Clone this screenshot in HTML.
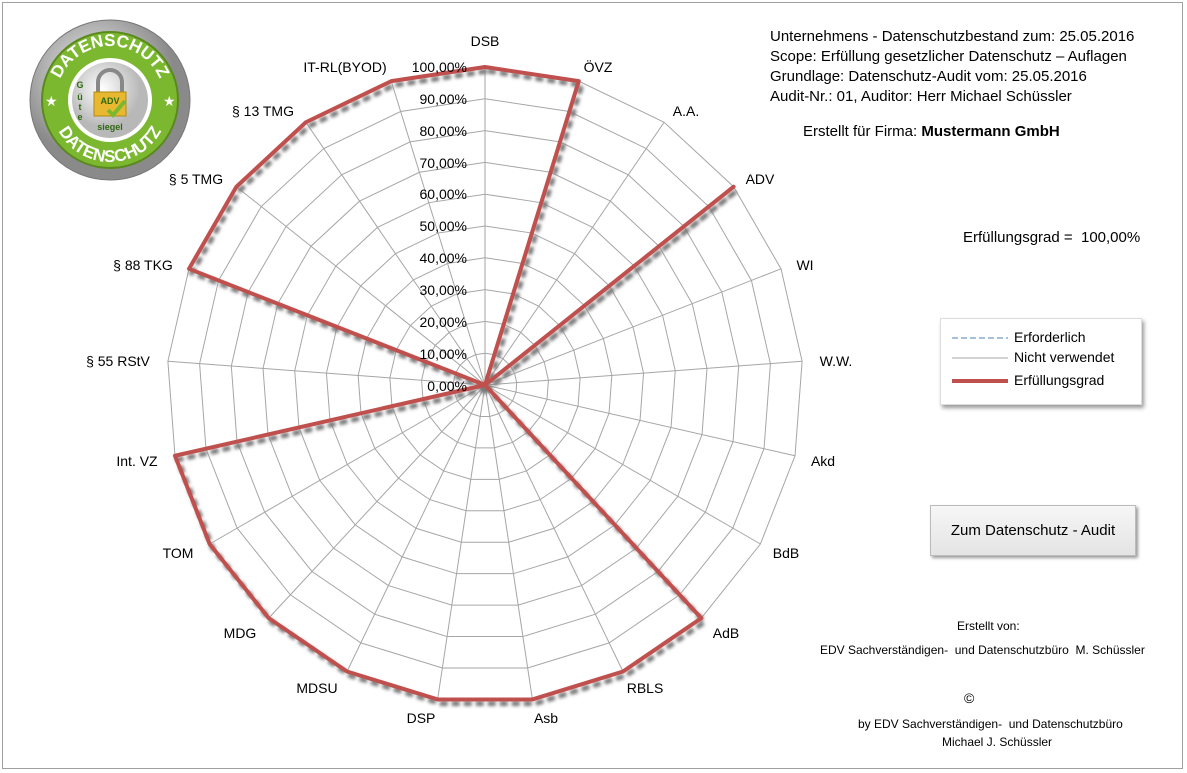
<!DOCTYPE html>
<html><head><meta charset="utf-8"><style>
html,body{margin:0;padding:0;width:1187px;height:773px;overflow:hidden;background:#fff;font-family:"Liberation Sans",sans-serif}
#frame{position:absolute;left:2px;top:2px;width:1181px;height:767px;border:1px solid #a0a0a0;box-sizing:border-box}
svg{position:absolute;left:0;top:0}
.t{font-size:14px;fill:#000}
.r{position:absolute;font-size:15px;color:#000;white-space:nowrap}
</style></head><body>
<div id="frame"></div>
<svg width="1187" height="773" id="s">
<defs>
<filter id="bl" x="-10%" y="-10%" width="120%" height="120%"><feGaussianBlur stdDeviation="1.5"/></filter>
<radialGradient id="gr" cx="40%" cy="35%"><stop offset="0" stop-color="#f4f4f4"/><stop offset="1" stop-color="#8a8a8a"/></radialGradient>
<radialGradient id="gi" cx="40%" cy="35%"><stop offset="0" stop-color="#ffffff"/><stop offset="1" stop-color="#b8b8b8"/></radialGradient>
</defs>
<g id="grid" stroke="#a6a6a6" stroke-width="1" fill="none"></g>
<g id="data"></g>
<!-- logo -->
<circle cx="110" cy="100" r="80" fill="url(#gr)" stroke="#777"/>
<circle cx="110" cy="100" r="68" fill="#7cb82f" stroke="#5a8a1f" stroke-width="2"/>
<circle cx="110" cy="100" r="42" fill="#fff"/>
<circle cx="110" cy="100" r="38" fill="url(#gi)"/>
<path d="M98 92 v-10 a12 12 0 0 1 24 0 v10" fill="none" stroke="#888" stroke-width="4"/>
<rect x="94" y="92" width="32" height="24" fill="#e8b830" stroke="#b08a10"/>
<text x="110" y="104" font-size="9" font-weight="bold" fill="#2d6a10" text-anchor="middle">ADV</text>
<path d="M108 110 l5 5 l12 -14" fill="none" stroke="#7cb82f" stroke-width="4"/>
<text x="110" y="130" font-size="9" font-weight="bold" fill="#2d6a10" text-anchor="middle">siegel</text>
<text x="80" y="88" font-size="9" font-weight="bold" fill="#2d6a10" text-anchor="middle">G</text>
<text x="80" y="100" font-size="9" font-weight="bold" fill="#2d6a10" text-anchor="middle">ü</text>
<text x="80" y="110" font-size="9" font-weight="bold" fill="#2d6a10" text-anchor="middle">t</text>
<text x="80" y="120" font-size="9" font-weight="bold" fill="#2d6a10" text-anchor="middle">e</text>
<path id="arcT" d="M56 100 a54 54 0 0 1 108 0" fill="none"/>
<path id="arcB" d="M52 104 a58 58 0 0 0 116 0" fill="none"/>
<text font-size="17" font-weight="bold" fill="#fff"><textPath href="#arcT" startOffset="50%" text-anchor="middle">DATENSCHUTZ</textPath></text>
<text font-size="17" font-weight="bold" fill="#fff"><textPath href="#arcB" startOffset="50%" text-anchor="middle">DATENSCHUTZ</textPath></text>
<text x="45" y="106" font-size="14" fill="#fff">★</text><text x="163" y="106" font-size="14" fill="#fff">★</text>
<!-- ticks -->
<g class="t" text-anchor="end">
<text x="467" y="72">100,00%</text><text x="467" y="104">90,00%</text><text x="467" y="136">80,00%</text><text x="467" y="168">70,00%</text><text x="467" y="199">60,00%</text><text x="467" y="231">50,00%</text><text x="467" y="263">40,00%</text><text x="467" y="295">30,00%</text><text x="467" y="327">20,00%</text><text x="467" y="359">10,00%</text><text x="467" y="391">0,00%</text>
</g>
<g class="t" text-anchor="middle">
<text x="485" y="46">DSB</text><text x="598" y="72">ÖVZ</text><text x="686" y="116">A.A.</text><text x="760" y="184">ADV</text><text x="805" y="270">WI</text><text x="836" y="366">W.W.</text><text x="823" y="466">Akd</text><text x="786" y="558">BdB</text><text x="726" y="638">AdB</text><text x="645" y="693">RBLS</text><text x="546" y="723">Asb</text><text x="421" y="723">DSP</text><text x="317" y="693">MDSU</text><text x="240" y="638">MDG</text><text x="178" y="558">TOM</text><text x="137" y="466">Int. VZ</text><text x="118" y="366">§ 55 RStV</text><text x="143" y="270">§ 88 TKG</text><text x="196" y="184">§ 5 TMG</text><text x="263" y="116">§ 13 TMG</text><text x="345" y="72">IT-RL(BYOD)</text>
</g>
</svg>
<div class="r" style="left:770px;top:28px">Unternehmens - Datenschutzbestand zum: 25.05.2016</div>
<div class="r" style="left:770px;top:48px">Scope: Erfüllung gesetzlicher Datenschutz – Auflagen</div>
<div class="r" style="left:770px;top:68px">Grundlage: Datenschutz-Audit vom: 25.05.2016</div>
<div class="r" style="left:770px;top:88px">Audit-Nr.: 01, Auditor: Herr Michael Schüssler</div>
<div class="r" style="left:803px;top:123px">Erstellt für Firma: <b>Mustermann GmbH</b></div>
<div class="r" style="left:963px;top:229px">Erfüllungsgrad =&nbsp; 100,00%</div>
<div style="position:absolute;left:940px;top:318px;width:200px;height:85px;background:#fff;border:1px solid #ddd;box-shadow:2px 3px 4px #999"></div>
<svg width="1187" height="773" style="pointer-events:none">
<line x1="952" y1="338" x2="1008" y2="338" stroke="#4f81bd" stroke-dasharray="6,3"/>
<line x1="952" y1="358" x2="1008" y2="358" stroke="#a6a6a6"/>
<line x1="952" y1="381" x2="1008" y2="381" stroke="#c0504d" stroke-width="4"/>
</svg>
<div class="r" style="left:1014px;top:329px;font-size:14px">Erforderlich</div>
<div class="r" style="left:1014px;top:349px;font-size:14px">Nicht verwendet</div>
<div class="r" style="left:1014px;top:372px;font-size:14px">Erfüllungsgrad</div>
<div style="position:absolute;left:930px;top:505px;width:206px;height:51px;background:linear-gradient(#f6f6f6,#e4e4e4);border:1px solid #bbb;box-shadow:2px 2px 3px #999;box-sizing:border-box;font-size:15px;line-height:49px;text-align:center">Zum Datenschutz - Audit</div>
<div class="r" style="left:957px;top:619px;font-size:12px">Erstellt von:</div>
<div class="r" style="left:820px;top:643px;font-size:12px">EDV Sachverständigen-&nbsp; und Datenschutzbüro&nbsp; M. Schüssler</div>
<div class="r" style="left:964px;top:690px;font-size:14px">©</div>
<div class="r" style="left:858px;top:717px;font-size:12px">by EDV Sachverständigen-&nbsp; und Datenschutzbüro</div>
<div class="r" style="left:942px;top:735px;font-size:12px">Michael J. Schüssler</div>
<script>
var cx=485,cy=385,R=318,N=21,ns="http://www.w3.org/2000/svg";
var vals=[1,1,0,1,0,0,0,0,1,1,1,1,1,1,1,1,0,1,1,1,1];
function pt(i,r){var a=i*2*Math.PI/N;return [cx+r*Math.sin(a),cy-r*Math.cos(a)];}
var g=document.getElementById('grid');
for(var k=1;k<=10;k++){var p=[];for(var i=0;i<N;i++)p.push(pt(i,R*k/10).join(','));var e=document.createElementNS(ns,'polygon');e.setAttribute('points',p.join(' '));g.appendChild(e);}
for(var i=0;i<N;i++){var q=pt(i,R);var l=document.createElementNS(ns,'line');l.setAttribute('x1',cx);l.setAttribute('y1',cy);l.setAttribute('x2',q[0]);l.setAttribute('y2',q[1]);g.appendChild(l);}
var p=[];for(var i=0;i<N;i++)p.push(pt(i,R*vals[i]).join(','));
var d=document.getElementById('data');
var sh=document.createElementNS(ns,'polygon');sh.setAttribute('points',p.join(' '));sh.setAttribute('fill','none');sh.setAttribute('stroke','#777');sh.setAttribute('stroke-width','5');sh.setAttribute('stroke-dasharray','8,4');sh.setAttribute('transform','translate(3,4)');sh.setAttribute('filter','url(#bl)');d.appendChild(sh);
var pl=document.createElementNS(ns,'polygon');pl.setAttribute('points',p.join(' '));pl.setAttribute('fill','none');pl.setAttribute('stroke','#c0504d');pl.setAttribute('stroke-width','4');pl.setAttribute('stroke-linejoin','round');d.appendChild(pl);
</script>
</body></html>
